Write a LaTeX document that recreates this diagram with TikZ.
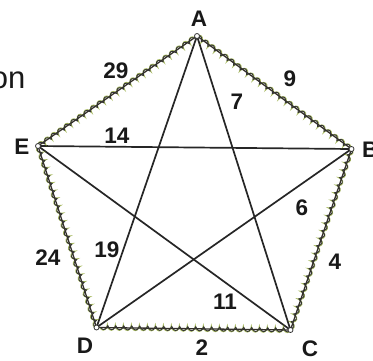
\documentclass[tikz,border=0pt]{standalone}
\usepackage{fontspec}
\setmainfont{Liberation Sans}
\usetikzlibrary{decorations.pathmorphing}
\begin{document}
\begin{tikzpicture}[x=1pt,y=-1pt,
  lbl/.style={font=\fontsize{22.5}{22.5}\selectfont\bfseries, text=black!90, inner sep=0pt},
  vtx/.style={circle, draw=black!80, fill=white, line width=0.8pt, inner sep=0pt, minimum size=5pt},
  starline/.style={draw=black!85, line width=1.7pt},
  rimgreen/.style={draw=olive!70!green, line width=1.4pt, opacity=0.65,
    decorate, decoration={coil, amplitude=2.4pt, segment length=8pt, aspect=0.5}},
  rimdark/.style={draw=black!80, line width=0.9pt,
    decorate, decoration={coil, amplitude=2pt, segment length=8pt, aspect=0.4}},
  rimline/.style={draw=black!85!olive, line width=1.3pt}
]
\useasboundingbox (0,0) rectangle (373,360);
\fill[white] (0,0) rectangle (373,360);
\coordinate (A) at (197,36);
\coordinate (B) at (351.5,149);
\coordinate (C) at (290.5,330);
\coordinate (D) at (96.5,327.5);
\coordinate (E) at (38,146);
% star
\path[starline] (A) -- (D);
\path[starline] (A) -- (C);
\path[starline] (E) -- (B);
\path[starline] (E) -- (C);
\path[starline] (D) -- (B);
% pentagon rim
\foreach \p/\q in {A/B,B/C,C/D,D/E,E/A}{
  \path[rimgreen] (\p) -- (\q);
  \path[rimline] (\p) -- (\q);
  \path[rimdark] (\p) -- (\q);
}
% vertices
\node[vtx] (vA) at (A) {};
\node[vtx] (vB) at (B) {};
\node[vtx] (vC) at (C) {};
\node[vtx] (vD) at (D) {};
\node[vtx] (vE) at (E) {};
% vertex labels
\node[lbl] (lA) at (199,19) {A};
\node[lbl, anchor=west] (lB) at (362,150) {B};
\node[lbl] (lC) at (310,349) {C};
\node[lbl] (lD) at (85,346) {D};
\node[lbl] (lE) at (22,147) {E};
% edge numbers
\node[lbl] (n29) at (116,71) {29};
\node[lbl] (n14) at (117,136) {14};
\node[lbl] (n9) at (290,79) {9};
\node[lbl] (n7) at (237,102) {7};
\node[lbl] (n6) at (302,208) {6};
\node[lbl] (n4) at (335,262) {4};
\node[lbl] (n11) at (225,302) {11};
\node[lbl] (n2) at (202,348) {2};
\node[lbl] (n24) at (48,258) {24};
\node[lbl] (n19) at (107,250) {19};
% cropped word at left
\node[font=\fontsize{31}{31}\selectfont, text=black!90, inner sep=0pt, anchor=base east] (won) at (25.5,88.5) {on};
\end{tikzpicture}
\end{document}
